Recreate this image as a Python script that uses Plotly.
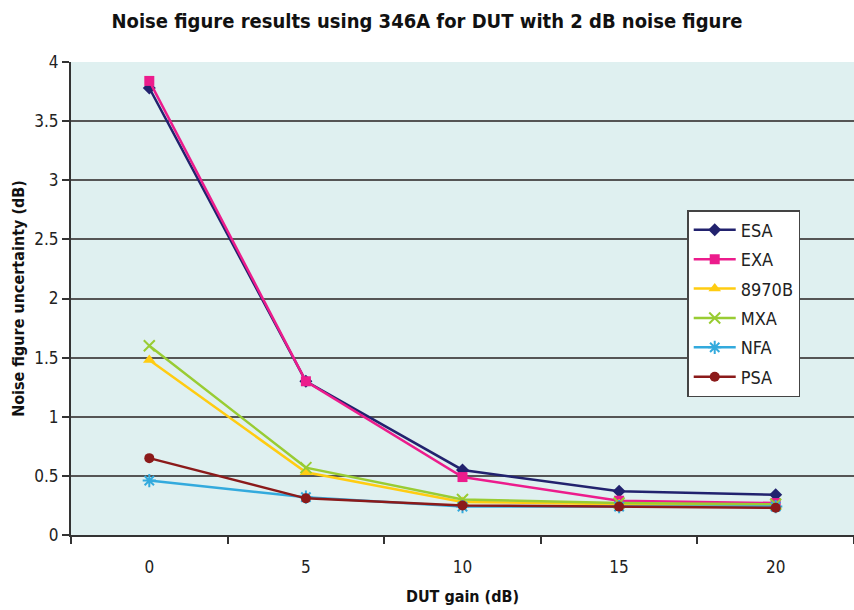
import plotly.graph_objects as go

gain = ["0", "5", "10", "15", "20"]
esa = [3.78, 1.30, 0.55, 0.37, 0.34]
exa = [3.84, 1.30, 0.49, 0.29, 0.27]
b8970 = [1.48, 0.53, 0.28, 0.26, 0.25]
mxa = [1.60, 0.57, 0.30, 0.27, 0.26]
nfa = [0.46, 0.32, 0.24, 0.24, 0.24]
psa = [0.65, 0.31, 0.25, 0.24, 0.23]

series = [
    ("ESA", esa, "#22226e", "diamond", 10),
    ("EXA", exa, "#ec1c8c", "square", 10),
    ("8970B", b8970, "#ffcc11", "triangle-up", 11),
    ("MXA", mxa, "#99cc33", "x-thin-open", 11),
    ("NFA", nfa, "#33aadd", "asterisk-open", 11),
    ("PSA", psa, "#8b1a1a", "circle", 10),
]

FONT = "DejaVu Sans Condensed, Roboto, sans-serif"

fig = go.Figure()
for name, vals, color, sym, size in series:
    fig.add_trace(go.Scatter(
        x=gain, y=vals, name=name, mode="lines+markers",
        legendgroup=name,
        line=dict(color=color, width=2.5),
        marker=dict(symbol=sym, size=size, color=color,
                    line=dict(color=color, width=2 if "open" in sym else 0)),
    ))

fig.update_layout(
    width=854, height=610,
    margin=dict(l=71, r=0, t=62, b=75),
    paper_bgcolor="white",
    plot_bgcolor="#dff0f0",
    font=dict(family=FONT, size=16, color="#222"),
    title=dict(text="<b>Noise figure results using 346A for DUT with 2 dB noise figure</b>",
               x=0.5, xanchor="center", y=0.966, yanchor="middle",
               font=dict(family=FONT, size=20, color="#111")),
    legend=dict(x=0.787, y=0.687, xanchor="left", yanchor="top",
                bgcolor="white", bordercolor="#444", borderwidth=1.5,
                font=dict(family=FONT, size=18, color="#222"),
                tracegroupgap=3, traceorder="grouped", itemwidth=42),
    xaxis=dict(
        type="category", range=[-0.5, 4.5], automargin=False,
        tickson="boundaries", ticks="outside", ticklen=7, tickcolor="#333", tickwidth=1.5,
        showgrid=False, showline=True, linecolor="#333", linewidth=2,
        tickfont=dict(family=FONT, size=17, color="#222"),
        ticklabelstandoff=16,
        title=dict(text="<b>DUT gain (dB)</b>", font=dict(family=FONT, size=16, color="#111"), standoff=14),
    ),
    yaxis=dict(
        range=[0, 4], dtick=0.5, automargin=False,
        showgrid=True, gridcolor="#555", gridwidth=2,
        zeroline=False,
        showline=True, linecolor="#333", linewidth=2,
        ticks="outside", ticklen=7, tickcolor="#333", tickwidth=1.5,
        tickfont=dict(family=FONT, size=17, color="#222"),
        title=dict(text="<b>Noise figure uncertainty (dB)</b>", font=dict(family=FONT, size=16, color="#111"), standoff=6),
    ),
)

fig.write_html("out.html", config={"displayModeBar": False},
               post_script="document.body.style.margin='0';document.body.style.overflow='hidden';")
